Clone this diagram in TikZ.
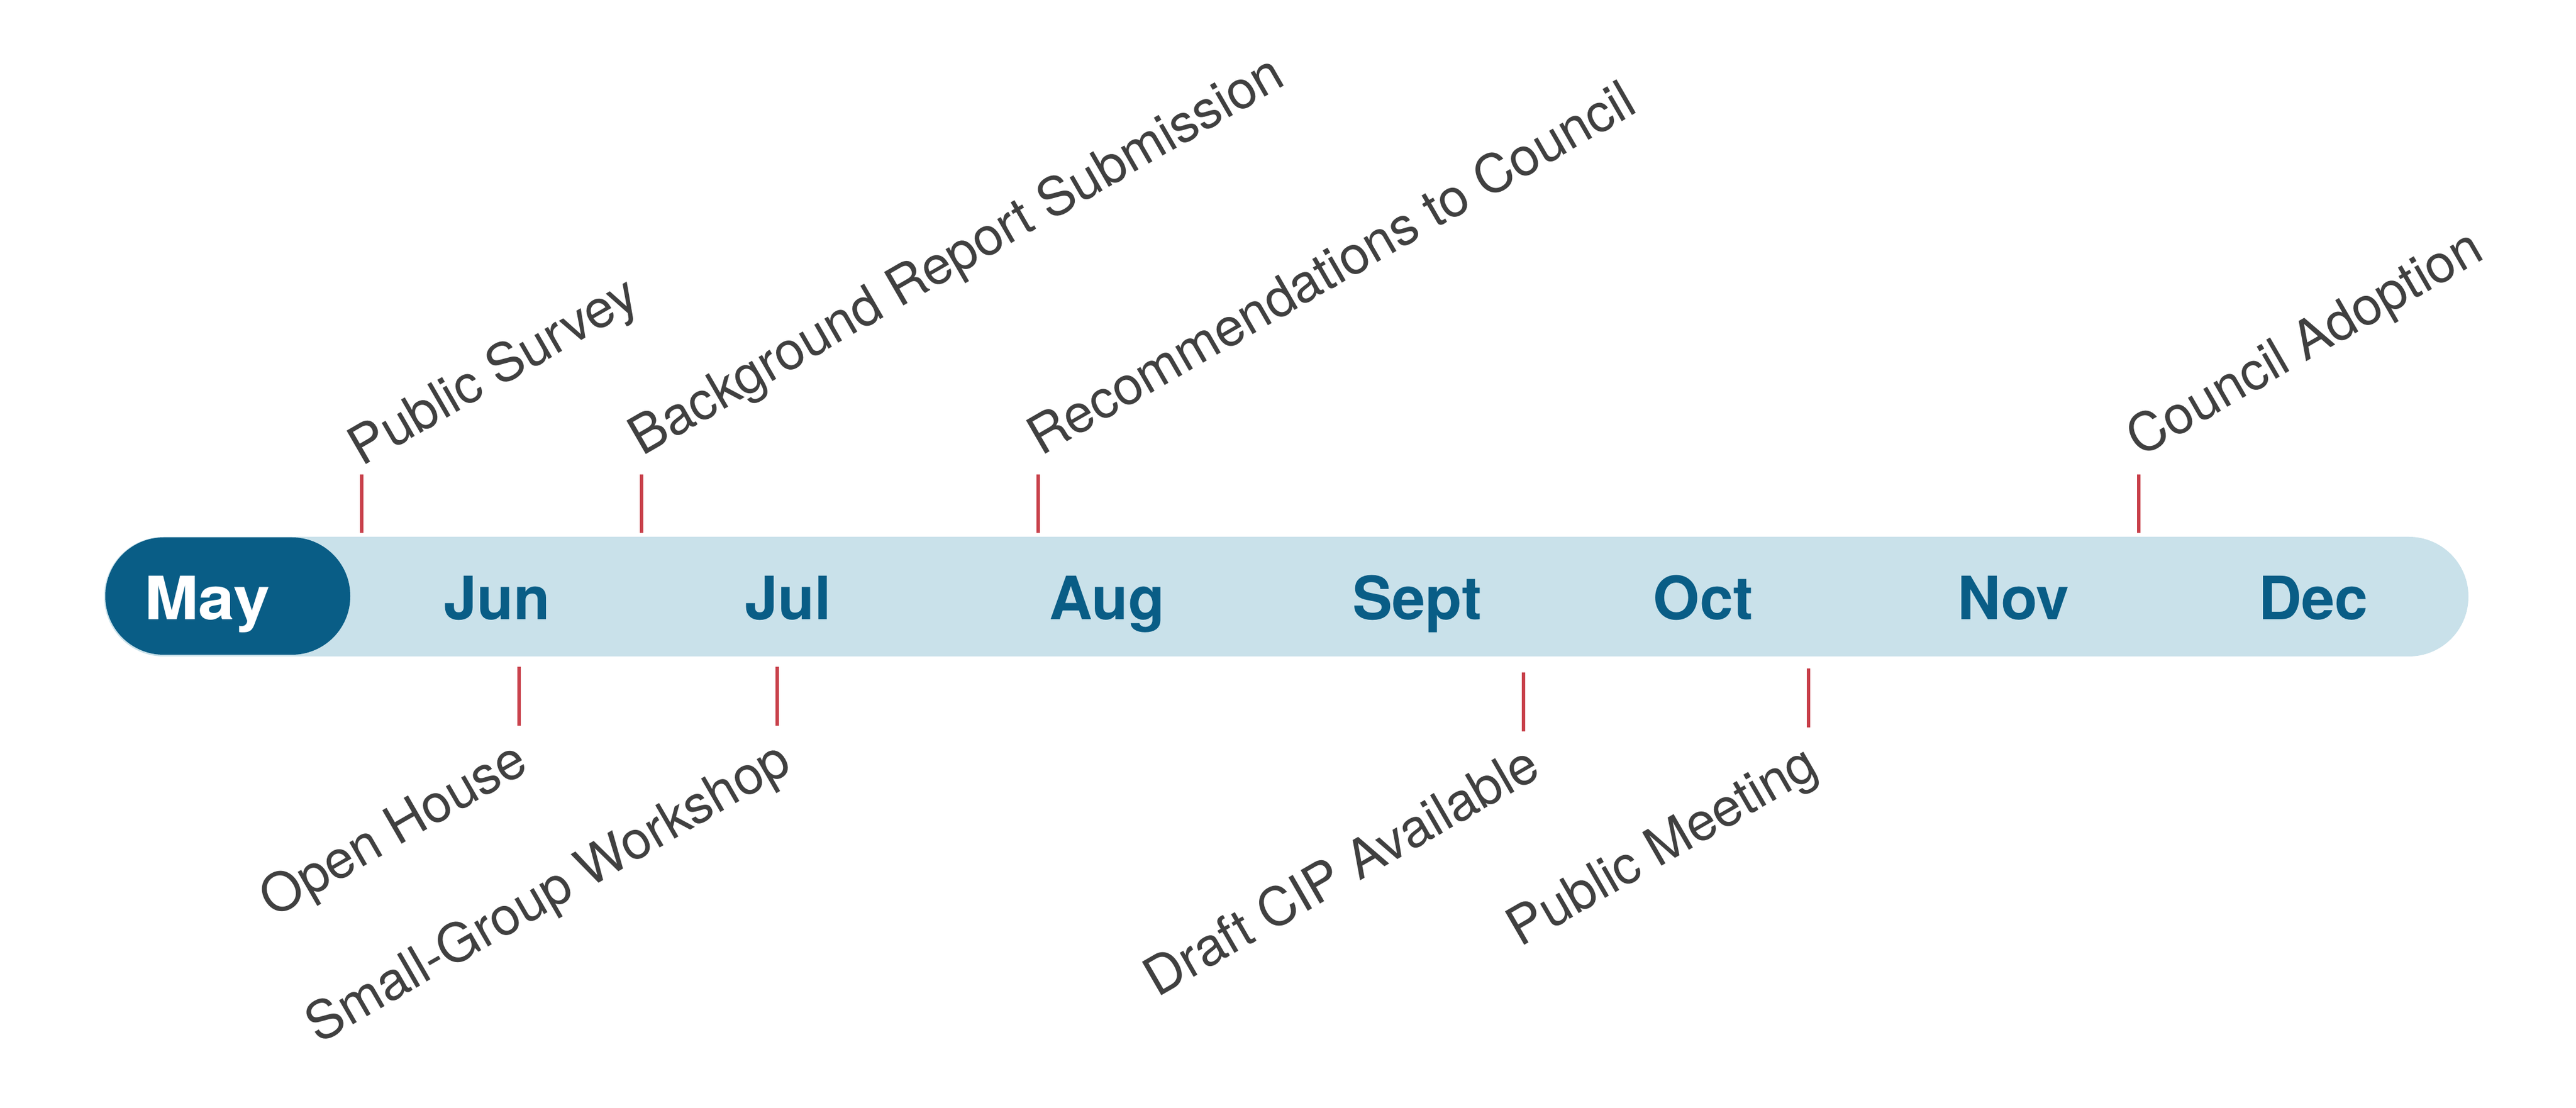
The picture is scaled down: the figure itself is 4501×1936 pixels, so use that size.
\documentclass[tikz,border=0pt]{standalone}
\usepackage{fontspec}
\setmainfont{TeX Gyre Heros}
\definecolor{barblue}{RGB}{201,225,234}
\definecolor{mayblue}{RGB}{9,93,134}
\definecolor{tickred}{RGB}{200,64,74}
\definecolor{labelgray}{RGB}{64,64,64}
\begin{document}
\begin{tikzpicture}[x=0.01cm, y=0.01cm, line cap=butt,
    month/.style={anchor=base, inner sep=0pt, text=mayblue, font=\fontsize{29.7}{30}\selectfont\bfseries},
    event/.style={inner sep=0pt, rotate=30, text=labelgray, font=\fontsize{26.3}{27}\selectfont},
    tickline/.style={draw=tickred, line width=0.055cm}]
    \useasboundingbox (0,0) rectangle (4501,1936);
    % timeline bar
    \fill[barblue, rounded corners=1.04cm] (182,789) rectangle (4313,998);
    \fill[mayblue, rounded corners=1.02cm] (184,792) rectangle (612,997);
    \node[month, text=white] (may) at (362,853) {\scalebox{1.09}[1]{May}};
    \foreach \m/\x in {Jun/868, Jul/1377, Aug/1934, Sept/2476, Oct/2976, Nov/3518, Dec/4042}
        \node[month] (\m) at (\x,853) {\m};
    % ticks
    \foreach \x in {632, 1121, 1814, 3737}
        \draw[tickline] (\x,1005) -- (\x,1107);
    \foreach \x/\y in {907/668, 1358/668, 2662/658, 3160/665}
        \draw[tickline] (\x,\y) -- (\x,\y+103);
    % events above
    \node[event, anchor=base west] (survey) at (632,1120) {Public Survey};
    \node[event, anchor=base west] (report) at (1122,1138) {Background Report Submission};
    \node[event, anchor=base west] (recs) at (1819,1138) {Recommendations to Council};
    \node[event, anchor=base west] (adopt) at (3739,1136) {Council Adoption};
    % events below
    \node[event, anchor=base east] (house) at (928,591) {Open House};
    \node[event, anchor=base east] (workshop) at (1388,591) {Small-Group Workshop};
    \node[event, anchor=base east] (draft) at (2697,582) {Draft CIP Available};
    \node[event, anchor=base east] (meeting) at (3182,584) {Public Meeting};
\end{tikzpicture}
\end{document}
